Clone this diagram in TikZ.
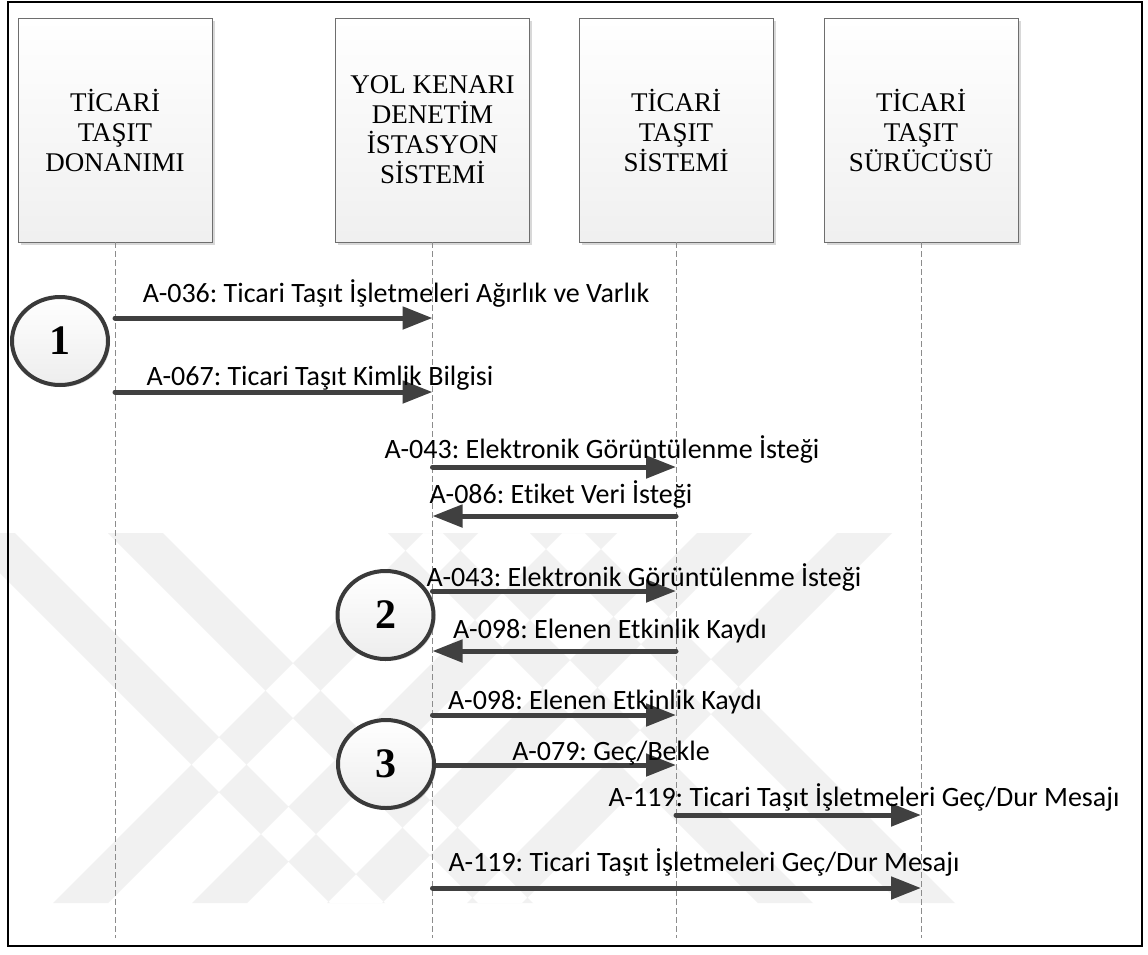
\documentclass[tikz,border=0pt]{standalone}
\usepackage{fontspec}
\setmainfont{Liberation Serif}
\newfontfamily\lblfont[Ligatures={NoCommon}]{Carlito}
\usetikzlibrary{arrows.meta,shapes.geometric,shadows}

\definecolor{ink}{HTML}{404040}
\definecolor{ringink}{HTML}{3A3A3A}
\definecolor{lifegray}{HTML}{8C8C8C}
\definecolor{boxedge}{HTML}{6E6E6E}
\definecolor{markgray}{HTML}{F1F1F1}

\begin{document}
\frenchspacing
\begin{tikzpicture}[x=1pt,y=-1pt,
  actor/.style={rectangle, draw=boxedge, line width=0.8pt, top color=white,
    bottom color=black!6, minimum width=194pt, minimum height=224pt,
    inner sep=0pt, align=center, font=\fontsize{27}{30}\selectfont,
    drop shadow={shadow xshift=2.5pt, shadow yshift=-2.5pt, opacity=0.3, fill=black!50}},
  lifeline/.style={draw=lifegray, line width=0.8pt, dash pattern=on 6pt off 3pt},
  msg/.style={draw=ink, line width=5pt, line cap=round,
    -{Triangle[length=30pt,width=22pt]}},
  lbl/.style={font=\lblfont\fontsize{28}{30}\selectfont, inner sep=0pt, text=black},
  stage/.style={ellipse, draw=ringink, line width=4pt, top color=white,
    bottom color=black!7, minimum width=96pt, minimum height=88pt, inner sep=0pt,
    font=\bfseries\fontsize{42}{42}\selectfont,
    drop shadow={shadow xshift=2pt, shadow yshift=-2pt, opacity=0.3, fill=black!50}}
]
\useasboundingbox (0,0) rectangle (1148,954);
\fill[white] (0,0) rectangle (1148,954);

% faint background emblem: a lattice of crossing diagonal bars
\begin{scope}
  \clip (0,533) rectangle (1148,903);
  \fill[markgray]
    \foreach \a in {-40,108,388,530} {
      (\a,533) -- ++(55,0) -- ++(370,370) -- ++(-55,0) -- cycle }
    \foreach \b in {53,192,327,467} {
      (\b,903) -- ++(55,0) -- ++(370,-370) -- ++(-55,0) -- cycle };
\end{scope}

% outer frame
\draw[line width=2.5pt] (8,2) rectangle (1142,946);

% participants
\node[actor] (b1) at (115,130)   {TİCARİ\\TAŞIT\\DONANIMI};
\node[actor] (b2) at (432.5,130) {YOL KENARI\\DENETİM\\İSTASYON\\SİSTEMİ};
\node[actor] (b3) at (676,130)   {TİCARİ\\TAŞIT\\SİSTEMİ};
\node[actor] (b4) at (921,130)   {TİCARİ\\TAŞIT\\SÜRÜCÜSÜ};

% lifeline ends
\coordinate (e1) at (b1.south |- 0,938);
\coordinate (e2) at (b2.south |- 0,938);
\coordinate (e3) at (b3.south |- 0,938);
\coordinate (e4) at (b4.south |- 0,938);
\foreach \i in {1,...,4} \draw[lifeline] (b\i.south) -- (e\i);

% messages
\draw[msg] (b1.south |- 0,318) -- (b2.south |- 0,318);
\draw[msg] (b1.south |- 0,392) -- (b2.south |- 0,392);
\draw[msg] (b2.south |- 0,467) -- (b3.south |- 0,467);
\draw[msg] (b3.south |- 0,516) -- (b2.south |- 0,516);
\draw[msg] (b2.south |- 0,591) -- (b3.south |- 0,591);
\draw[msg] (b3.south |- 0,651) -- (b2.south |- 0,651);
\draw[msg] (b2.south |- 0,715) -- (b3.south |- 0,715);
\draw[msg] (b2.south |- 0,765) -- (b3.south |- 0,765);
\draw[msg] (b3.south |- 0,815) -- (b4.south |- 0,815);
\draw[msg] (b2.south |- 0,888) -- (b4.south |- 0,888);

% message labels
\node[lbl] (t1)  at (396,293) {A-036: Ticari Taşıt İşletmeleri Ağırlık ve Varlık};
\node[lbl] (t2)  at (320,378) {A-067: Ticari Taşıt Kimlik Bilgisi};
\node[lbl] (t3)  at (602,449) {A-043: Elektronik Görüntülenme İsteği};
\node[lbl] (t4)  at (561,494) {A-086: Etiket Veri İsteği};
\node[lbl] (t5)  at (644,577) {A-043: Elektronik Görüntülenme İsteği};
\node[lbl] (t6)  at (610,631) {A-098: Elenen Etkinlik Kaydı};
\node[lbl] (t7)  at (605,702) {A-098: Elenen Etkinlik Kaydı};
\node[lbl] (t8)  at (611,753) {A-079: Geç/Bekle};
\node[lbl] (t9)  at (864,797) {A-119: Ticari Taşıt İşletmeleri Geç/Dur Mesajı};
\node[lbl] (t10) at (704,862) {A-119: Ticari Taşıt İşletmeleri Geç/Dur Mesajı};

% stage markers
\node[stage] (s1) at (60,341)    {1};
\node[stage] (s2) at (385.5,615) {2};
\node[stage] (s3) at (386,764)   {3};
\end{tikzpicture}
\end{document}
